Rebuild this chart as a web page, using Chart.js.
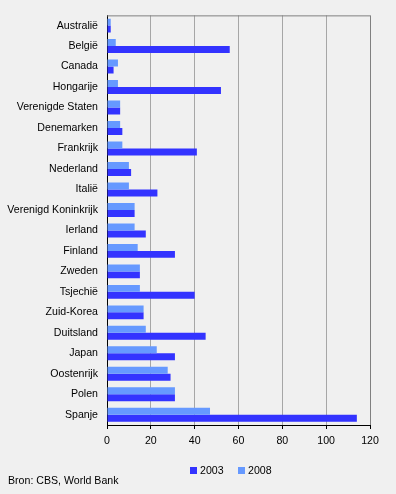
<!DOCTYPE html>
<html>
<head>
<meta charset="utf-8">
<script src="https://cdn.jsdelivr.net/npm/chart.js@4"></script>
<style>
  html, body { margin: 0; padding: 0; background: #f0f0f0; }
  canvas { display: block; }
</style>
</head>
<body>
<canvas id="chart" width="396" height="494"></canvas>
<script>
const countries = ['Australië', 'België', 'Canada', 'Hongarije', 'Verenigde Staten', 'Denemarken',
    'Frankrijk', 'Nederland', 'Italië', 'Verenigd Koninkrijk', 'Ierland', 'Finland', 'Zweden',
    'Tsjechië', 'Zuid-Korea', 'Duitsland', 'Japan', 'Oostenrijk', 'Polen', 'Spanje']
const values2003 = [1.7, 56, 3, 52, 6, 7, 41, 11, 23, 12.6, 17.7, 31, 15, 40, 16.7, 45, 31, 29, 31, 114]
const values2008 = [1.7, 4, 5, 5, 6, 6, 7, 10, 10, 12.6, 12.6, 14, 15, 15, 16.7, 17.7, 22.7, 27.7, 31, 47]
const xTicks = [0, 20, 40, 60, 80, 100, 120]
const source = 'Bron: CBS, World Bank'

const FONT = { family: '"Liberation Sans", Arial, sans-serif', size: 10.6 }
const dark = '#3333ff'
const light = '#6699ff'

// top/right frame, legend and source line
const extras = {
    id: 'extras',
    afterDraw(chart) {
        const { ctx, chartArea: a } = chart
        ctx.save()
        ctx.strokeStyle = '#808080'
        ctx.lineWidth = 1
        ctx.beginPath()
        ctx.moveTo(a.left, a.top + 0.5)
        ctx.lineTo(a.right + 0.5, a.top + 0.5)
        ctx.lineTo(a.right + 0.5, a.bottom)
        ctx.stroke()

        ctx.font = `${FONT.size}px ${FONT.family}`
        ctx.fillStyle = '#000'
        ctx.textBaseline = 'middle'
        const items = [['2003', dark], ['2008', light]]
        let x = 190
        for (const [label, color] of items) {
            ctx.fillStyle = color
            ctx.fillRect(x, 467, 7, 7)
            ctx.fillStyle = '#000'
            ctx.fillText(label, x + 10, 471)
            x += 48
        }
        ctx.fillText(source, 8, 481)
        ctx.restore()
    }
}

new Chart(document.getElementById('chart'), {
    type: 'bar',
    data: {
        labels: countries,
        datasets: [
            { label: '2008', data: values2008, backgroundColor: light },
            { label: '2003', data: values2003, backgroundColor: dark }
        ]
    },
    options: {
        indexAxis: 'y',
        responsive: false,
        animation: false,
        layout: { padding: { left: 0, right: 26, top: 15, bottom: 0 } },
        datasets: { bar: { categoryPercentage: 0.68, barPercentage: 1.0 } },
        plugins: { legend: { display: false }, tooltip: { enabled: false } },
        scales: {
            x: {
                min: 0, max: 120,
                afterBuildTicks: s => { s.ticks = xTicks.map(v => ({ value: v })) },
                afterFit: s => { s.height = 69 },
                grid: { color: '#a6a6a6', tickColor: '#000', tickLength: 4 },
                border: { color: '#000' },
                ticks: { color: '#000', font: FONT, padding: 6, maxRotation: 0 }
            },
            y: {
                afterFit: s => { s.width = 107 },
                grid: { display: false, drawTicks: false },
                border: { color: '#000' },
                ticks: { color: '#000', font: FONT, padding: 9, autoSkip: false }
            }
        }
    },
    plugins: [extras]
})
</script>
</body>
</html>
